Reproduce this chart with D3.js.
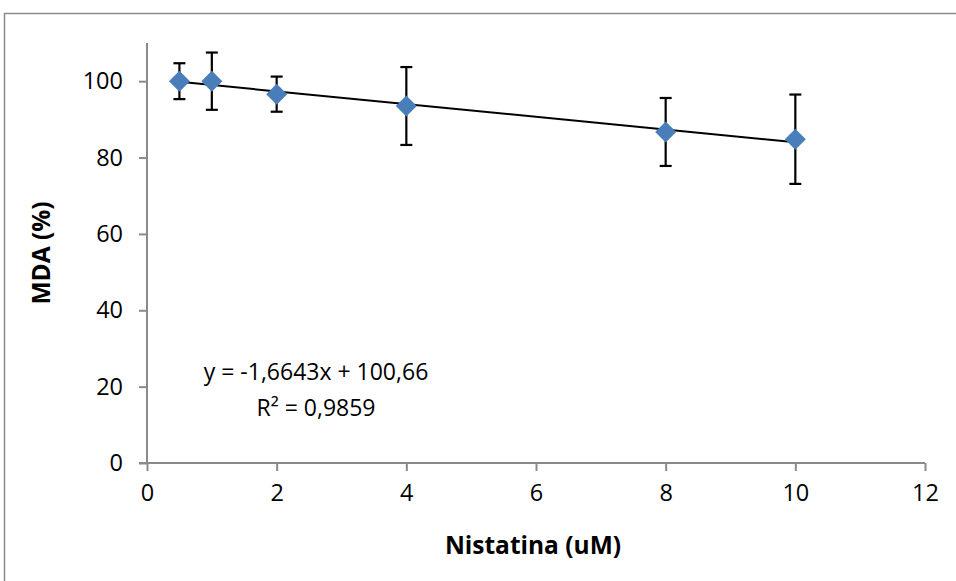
<!DOCTYPE html>
<html>
<head>
<meta charset="utf-8">
<script src="https://cdn.jsdelivr.net/npm/d3@7"></script>
<style>
  body { margin: 0; background: #fff; }
  text { font-family: "Open Sans", "Liberation Sans", sans-serif; }
</style>
</head>
<body>
<div id="chart"></div>
<script>
// data
var concentrations = [0.5, 1, 2, 4, 8, 10];
var mdaMeans = [100, 100, 96.6, 93.5, 86.7, 84.8];
var mdaErrors = [4.7, 7.5, 4.6, 10.2, 8.9, 11.7];
var xTicks = [0, 2, 4, 6, 8, 10, 12];
var yTicks = [0, 20, 40, 60, 80, 100];
var trendSlope = -1.6643;
var trendIntercept = 100.66;
var equationLabel = "y = -1,6643x + 100,66";
var r2Label = "R² = 0,9859";

var width = 956, height = 581;

var svg = d3.select("#chart").append("svg")
  .attr("width", width)
  .attr("height", height);

// chart frame
svg.append("rect")
  .attr("x", 4.5).attr("y", 13.5)
  .attr("width", 1000).attr("height", 1000)
  .attr("fill", "none")
  .attr("stroke", "#8c8c8c")
  .attr("stroke-width", 1.5);

var x = d3.scaleLinear().domain([0, 12]).range([147, 925]);
var y = d3.scaleLinear().domain([0, 110]).range([463, 43]);

var axisColor = "#8a8a8a";

// y axis
var yAxis = svg.append("g")
  .attr("transform", "translate(" + x(0) + ",0)")
  .call(d3.axisLeft(y).tickValues(yTicks).tickSize(8).tickPadding(16).tickSizeOuter(0));
yAxis.select(".domain").attr("stroke", axisColor).attr("stroke-width", 2)
  .attr("d", "M0," + y(110) + "V" + y(0));
yAxis.selectAll(".tick line").attr("stroke", axisColor).attr("stroke-width", 2);
yAxis.selectAll(".tick text").attr("font-size", 23.5).attr("fill", "#000")
  .attr("font-family", "'Open Sans', sans-serif");

// x axis
var xAxis = svg.append("g")
  .attr("transform", "translate(0," + y(0) + ")")
  .call(d3.axisBottom(x).tickValues(xTicks).tickSize(8).tickPadding(13).tickSizeOuter(0));
xAxis.select(".domain").attr("stroke", axisColor).attr("stroke-width", 2)
  .attr("d", "M" + (x(0) - 8) + ",0H" + x(12));
xAxis.selectAll(".tick line").attr("stroke", axisColor).attr("stroke-width", 2);
xAxis.selectAll(".tick text").attr("font-size", 23.5).attr("fill", "#000")
  .attr("font-family", "'Open Sans', sans-serif");

// axis titles
svg.append("text")
  .attr("x", 533).attr("y", 554)
  .attr("text-anchor", "middle")
  .attr("font-size", 24.5).attr("font-weight", "bold")
  .text("Nistatina (uM)");

svg.append("text")
  .attr("transform", "translate(50,253) rotate(-90)")
  .attr("text-anchor", "middle")
  .attr("font-size", 24.5).attr("font-weight", "bold")
  .text("MDA (%)");

// trend line
var xmin = d3.min(concentrations), xmax = d3.max(concentrations);
svg.append("line")
  .attr("x1", x(xmin)).attr("y1", y(trendSlope * xmin + trendIntercept))
  .attr("x2", x(xmax)).attr("y2", y(trendSlope * xmax + trendIntercept))
  .attr("stroke", "#000").attr("stroke-width", 2);

var data = concentrations.map(function(c, i) {
  return { x: c, y: mdaMeans[i], e: mdaErrors[i] };
});

// error bars
var bars = svg.append("g").selectAll("g").data(data).enter().append("g")
  .attr("stroke", "#000").attr("stroke-width", 2.2);
bars.append("line")
  .attr("x1", function(d) { return x(d.x); }).attr("x2", function(d) { return x(d.x); })
  .attr("y1", function(d) { return y(d.y + d.e); }).attr("y2", function(d) { return y(d.y - d.e); });
bars.append("line")
  .attr("x1", function(d) { return x(d.x) - 6; }).attr("x2", function(d) { return x(d.x) + 6; })
  .attr("y1", function(d) { return y(d.y + d.e); }).attr("y2", function(d) { return y(d.y + d.e); });
bars.append("line")
  .attr("x1", function(d) { return x(d.x) - 6; }).attr("x2", function(d) { return x(d.x) + 6; })
  .attr("y1", function(d) { return y(d.y - d.e); }).attr("y2", function(d) { return y(d.y - d.e); });

// diamond markers
svg.append("g").selectAll("path").data(data).enter().append("path")
  .attr("d", "M0,-10.5L10.5,0L0,10.5L-10.5,0Z")
  .attr("transform", function(d) { return "translate(" + x(d.x) + "," + y(d.y) + ")"; })
  .attr("fill", "#4a7ebb");

// regression labels
svg.append("text")
  .attr("x", 316).attr("y", 380)
  .attr("text-anchor", "middle")
  .attr("font-size", 23)
  .text(equationLabel);
svg.append("text")
  .attr("x", 316).attr("y", 416)
  .attr("text-anchor", "middle")
  .attr("font-size", 23)
  .text(r2Label);
</script>
</body>
</html>
